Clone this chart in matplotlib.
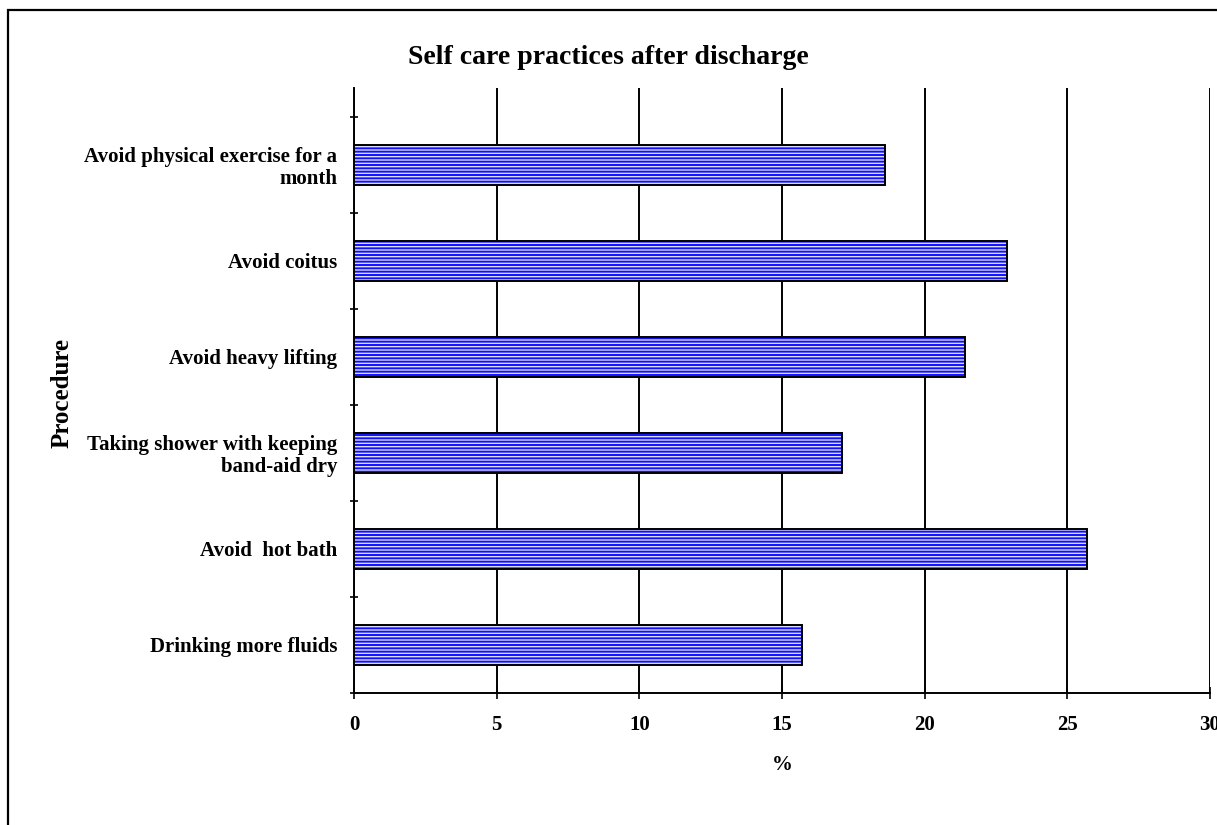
import numpy as np
import matplotlib
matplotlib.use("Agg")
import matplotlib.pyplot as plt
from matplotlib.patches import Rectangle

# Self care practices after discharge (percent of respondents)
procedures = [
    "Drinking more fluids",
    "Avoid  hot bath",
    "Taking shower with keeping\nband-aid dry",
    "Avoid heavy lifting",
    "Avoid coitus",
    "Avoid physical exercise for a\nmonth",
]
percent = [15.7, 25.7, 17.1, 21.4, 22.9, 18.6]
x_ticks = [0, 5, 10, 15, 20, 25, 30]

plt.rcParams['font.family'] = ['Liberation Serif', 'DejaVu Serif']
plt.rcParams['font.weight'] = 'bold'
plt.rcParams['hatch.linewidth'] = 1.4

W, H = 1217, 825
fig = plt.figure(figsize=(W / 100, H / 100), dpi=100)
fig.patch.set_facecolor('white')

# outer chart frame (runs off the right/bottom edge)
fig.add_artist(Rectangle((8 / W, -0.05), 1.2, 1 - 10 / H + 0.05,
                         transform=fig.transFigure, fill=False,
                         edgecolor='black', linewidth=1.6))

ax = fig.add_axes([354 / W, 1 - 693 / H, (1210 - 354) / W, (693 - 88) / H])

y = np.arange(len(procedures))
# striped fill first, then the black outline on top
ax.barh(y, percent, height=0.41, color='#dcdcff', edgecolor='#1010ff',
        linewidth=0, hatch='-----', zorder=3)
ax.barh(y, percent, height=0.41, fill=False, edgecolor='black',
        linewidth=1.4, zorder=4)

ax.set_xlim(0, 30)
ax.set_ylim(-0.5, 5.8)
ax.set_xticks(x_ticks)
ax.set_xticklabels([str(v) for v in x_ticks], fontsize=15, fontweight='bold')
ax.set_yticks(y)
ax.set_yticklabels(procedures, fontsize=15, fontweight='bold',
                   linespacing=1.1)
ax.set_yticks(np.arange(-0.5, len(procedures), 1.0), minor=True)

ax.tick_params(axis='y', which='major', length=0, pad=12)
ax.tick_params(axis='y', which='minor', length=6, width=1.2, direction='inout')
ax.tick_params(axis='x', length=8, width=1.2, direction='inout', pad=12)

ax.grid(axis='x', color='black', linewidth=1.4, zorder=1)
for s in ['top', 'right']:
    ax.spines[s].set_visible(False)
for s in ['left', 'bottom']:
    ax.spines[s].set_linewidth(1.4)

ax.set_xlabel('%', fontsize=15, fontweight='bold', labelpad=14)
fig.text(62 / W, 1 - 393 / H, 'Procedure', rotation=90, ha='center',
         va='center', fontsize=18, fontweight='bold')
fig.text(608 / W, 1 - 57 / H, 'Self care practices after discharge',
         ha='center', va='center', fontsize=20, fontweight='bold')

fig.savefig('out.png', dpi=100)
